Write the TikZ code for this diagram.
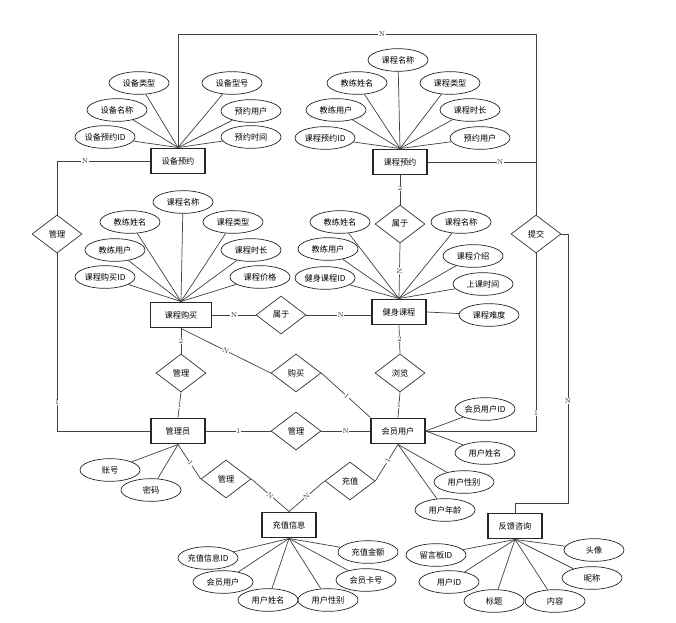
\documentclass[tikz,border=0pt]{standalone}
\usepackage{fontspec}
\newfontfamily\zh{Noto Sans CJK SC}
\usetikzlibrary{shapes.geometric}

\begin{document}
\begin{tikzpicture}[x=0.03cm,y=-0.03cm,
  ent/.style={draw=black!85,line width=1.1pt,fill=white,minimum width=1.62cm,minimum height=0.77cm,inner sep=1pt,font=\zh\fontsize{7}{8}\selectfont},
  rel/.style={diamond,draw=black!80,line width=0.6pt,fill=white,minimum width=1.5cm,minimum height=1.14cm,inner sep=0pt,font=\zh\fontsize{7}{8}\selectfont},
  attr/.style={ellipse,draw=black!85,line width=0.6pt,fill=white,minimum width=1.8cm,minimum height=0.68cm,inner sep=0pt,font=\zh\fontsize{7}{8}\selectfont},
  lnk/.style={draw=black!75,line width=0.6pt},
  card/.style={font=\fontsize{6}{6}\selectfont,fill=white,inner sep=0.4pt,text=black!80}]
  \useasboundingbox (0,0) rectangle (676,623);

  % entities
  \node[ent] (sbyy) at (178,161) {设备预约};
  \node[ent] (kcyy) at (400,162) {课程预约};
  \node[ent,minimum width=1.83cm] (kcgm) at (181,315) {课程购买};
  \node[ent] (jskc) at (399,312) {健身课程};
  \node[ent] (gly) at (178,431) {管理员};
  \node[ent] (hyyh) at (398,431) {会员用户};
  \node[ent] (czxx) at (289,525) {充值信息};
  \node[ent] (fkzx) at (515,526) {反馈咨询};

  % relationships
  \node[rel] (gl1) at (57,234) {管理};
  \node[rel] (sy1) at (281,315) {属于};
  \node[rel] (sy2) at (400,224) {属于};
  \node[rel] (gl2) at (181,373) {管理};
  \node[rel] (gm) at (296,373) {购买};
  \node[rel] (ll) at (400,373) {浏览};
  \node[rel] (gl3) at (296,431) {管理};
  \node[rel] (gl4) at (226,479) {管理};
  \node[rel] (cz) at (350,481) {充值};
  \node[rel] (tj) at (536,234) {提交};

  % attributes of 设备预约
  \node[attr] (sblx) at (139,83) {设备类型};
  \node[attr] (sbmc) at (117,110) {设备名称};
  \node[attr] (sbid) at (105,137) {设备预约ID};
  \node[attr] (sbxh) at (232,83) {设备型号};
  \node[attr] (sbyh) at (251,111) {预约用户};
  \node[attr] (sbsj) at (251,137) {预约时间};
  \foreach \a in {sblx,sbmc,sbid,sbxh,sbyh,sbsj}
    \draw[lnk] (sbyy.north) -- (\a);

  % attributes of 课程预约
  \node[attr] (yymc) at (398,60) {课程名称};
  \node[attr] (yyxm) at (357,83) {教练姓名};
  \node[attr] (yylx) at (450,83) {课程类型};
  \node[attr] (yyjl) at (336,110) {教练用户};
  \node[attr] (yysc) at (470,110) {课程时长};
  \node[attr] (yyid) at (325,138) {课程预约ID};
  \node[attr] (yyyh) at (480,138) {预约用户};
  \foreach \a in {yymc,yyxm,yylx,yyjl,yysc,yyid,yyyh}
    \draw[lnk] (kcyy.north) -- (\a);

  % attributes of 课程购买
  \node[attr] (gmmc) at (183,202) {课程名称};
  \node[attr] (gmxm) at (130,222) {教练姓名};
  \node[attr] (gmlx) at (233,222) {课程类型};
  \node[attr] (gmjl) at (115,250) {教练用户};
  \node[attr] (gmsc) at (251,250) {课程时长};
  \node[attr] (gmid) at (105,277) {课程购买ID};
  \node[attr] (gmjg) at (260,277) {课程价格};
  \foreach \a in {gmmc,gmxm,gmlx,gmjl,gmsc,gmid,gmjg}
    \draw[lnk] (kcgm.north) -- (\a);

  % attributes of 健身课程
  \node[attr] (jsxm) at (340,222) {教练姓名};
  \node[attr] (jsmc) at (461,222) {课程名称};
  \node[attr] (jsjl) at (328,249) {教练用户};
  \node[attr] (jsjs) at (473,256) {课程介绍};
  \node[attr] (jsid) at (325,278) {健身课程ID};
  \node[attr] (jssj) at (483,284) {上课时间};
  \node[attr] (jsnd) at (489,315) {课程难度};
  \foreach \a in {jsxm,jsmc,jsjl,jsjs,jsid,jssj}
    \draw[lnk] (jskc.north) -- (\a);
  \draw[lnk] (jskc.east) -- (jsnd);

  % attributes of 会员用户
  \node[attr] (hyid) at (485,409) {会员用户ID};
  \node[attr] (hyxm) at (485,453) {用户姓名};
  \node[attr] (hyxb) at (464,482) {用户性别};
  \node[attr] (hynl) at (445,510) {用户年龄};
  \draw[lnk] (hyyh.east) -- (hyid);
  \draw[lnk] (hyyh.east) -- (hyxm);
  \draw[lnk] (hyyh.south) -- (hyxb);
  \draw[lnk] (hyyh.south) -- (hynl);

  % attributes of 管理员
  \node[attr] (zh) at (110,470) {账号};
  \node[attr] (mm) at (151,490) {密码};
  \draw[lnk] (gly.south) -- (zh);
  \draw[lnk] (gly.south) -- (mm);

  % attributes of 充值信息
  \node[attr] (czid) at (208,558) {充值信息ID};
  \node[attr] (czje) at (368,552) {充值金额};
  \node[attr] (czyh) at (223,582) {会员用户};
  \node[attr] (czkh) at (366,580) {会员卡号};
  \node[attr] (czxm) at (268,600) {用户姓名};
  \node[attr] (czxb) at (328,600) {用户性别};
  \foreach \a in {czid,czje,czyh,czkh,czxm,czxb}
    \draw[lnk] (czxx.south) -- (\a);

  % attributes of 反馈咨询
  \node[attr] (lyid) at (436,555) {留言板ID};
  \node[attr] (tx) at (594,550) {头像};
  \node[attr] (yhid) at (449,582) {用户ID};
  \node[attr] (nc) at (592,578) {昵称};
  \node[attr] (bt) at (494,601) {标题};
  \node[attr] (nr) at (555,601) {内容};
  \foreach \a in {lyid,tx,yhid,nc,bt,nr}
    \draw[lnk] (fkzx.south) -- (\a);

  % relationship lines
  \coordinate (top) at (0,34);
  \coordinate (fk) at (568,503);
  \draw[lnk] (sbyy.west) -| node[card,pos=0.35]{N} (gl1.north);
  \draw[lnk] (gl1.south) |- node[card,pos=0.42]{1} (gly.west);
  \draw[lnk] (sbyy.north) -- (sbyy.north |- top) -| node[card,pos=0.285]{N} (tj.north);
  \draw[lnk] (kcyy.east) -- node[card,pos=0.67]{N} (kcyy.east -| tj.north);
  \draw[lnk] (tj.south) |- node[card,pos=0.45]{1} (hyyh.east);
  \draw[lnk] (tj.east) -| node[card,pos=0.81]{N} (fk) -| (fkzx.north);
  \draw[lnk] (kcyy.south) -- node[card,pos=0.45]{2} (sy2.north);
  \draw[lnk] (sy2.south) -- node[card,sloped]{N} (jskc.north);
  \draw[lnk] (kcgm.east) -- node[card]{N} (sy1.west);
  \draw[lnk] (sy1.east) -- node[card,pos=0.53]{N} (sy1.east -| jskc.west);
  \draw[lnk] (kcgm.south) -- node[card]{2} (gl2.north);
  \draw[lnk] (gl2.south) -- node[card]{1} (gly.north);
  \draw[lnk] (kcgm.south) -- node[card,sloped]{N} (gm.west);
  \draw[lnk] (gm.east) -- node[card,sloped,pos=0.52]{1} (hyyh.north west);
  \draw[lnk] (jskc.south) -- node[card,pos=0.47]{2} (ll.north);
  \draw[lnk] (ll.south) -- node[card]{1} (hyyh.north);
  \draw[lnk] (gly.east) -- node[card]{1} (gl3.west);
  \draw[lnk] (gl3.east) -- node[card]{N} (hyyh.west);
  \draw[lnk] (gly.south) -- node[card,sloped,pos=0.55]{1} (gl4.west);
  \draw[lnk] (gl4.east) -- node[card,sloped]{N} (czxx.north);
  \draw[lnk] (cz.west) -- node[card,sloped]{N} (czxx.north);
  \draw[lnk] (hyyh.south) -- node[card,sloped,pos=0.45]{1} (cz.east);
\end{tikzpicture}
\end{document}
